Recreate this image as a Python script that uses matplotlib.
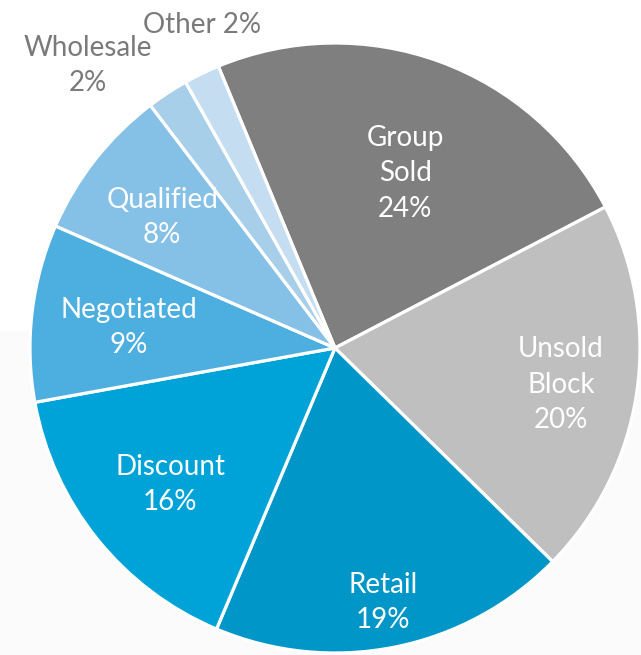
import numpy as np
import matplotlib
matplotlib.use("Agg")
import matplotlib.pyplot as plt

categories = ["Group\nSold", "Unsold\nBlock", "Retail", "Discount", "Negotiated",
              "Qualified", "Wholesale", "Other"]
values = [23.6, 20.0, 19.0, 15.8, 9.4, 8.1, 2.2, 1.9]
colors = ["#7f7f7f", "#bfbfbf", "#0096c7", "#00a3d7", "#4daee0",
          "#85c0e6", "#a8cfea", "#c4ddf1"]

# label layout (angle in degrees, radius as fraction of pie radius)
label_angle = [68.4, -8.6, -79.2, 219.1, 173.6, 142.4, 130.9, 112.2]
label_radius = [0.624, 0.749, 0.841, 0.697, 0.680, 0.715, 1.237, 1.154]
label_sep = ["\n", "\n", "\n", "\n", "\n", "\n", "\n", " "]
label_color = ["white"] * 6 + ["#7a7a7a", "#7a7a7a"]

plt.rcParams['font.family'] = ['Lato', 'DejaVu Sans']

W, H = 641, 655
fig = plt.figure(figsize=(W / 100, H / 100), dpi=100)
fig.patch.set_facecolor("white")
# faint background panel on lower part
fig.patches.append(plt.Rectangle((0, 0), 1, (H - 331) / H, transform=fig.transFigure,
                                 facecolor="#fbfbfb", edgecolor="none", zorder=-10))

cx, cy, R = 335, 348, 305
ax = fig.add_axes([(cx - R) / W, (H - cy - R) / H, 2 * R / W, 2 * R / H])
ax.pie(values, colors=colors, startangle=112.5, counterclock=False,
       wedgeprops=dict(edgecolor="white", linewidth=2.3))
ax.set_xlim(-1, 1)
ax.set_ylim(-1, 1)
ax.set_aspect("auto")
ax.axis("off")

for cat, v, a, r, sep, c in zip(categories, values, label_angle, label_radius,
                                label_sep, label_color):
    name = cat if sep == "\n" else cat.replace("\n", " ")
    txt = f"{name}{sep}{round(v):d}%"
    t = np.deg2rad(a)
    ax.text(r * np.cos(t), r * np.sin(t) - 0.008, txt, ha="center", va="center",
            fontsize=20, color=c, linespacing=1.45, clip_on=False)

fig.savefig("out.png", dpi=100)
